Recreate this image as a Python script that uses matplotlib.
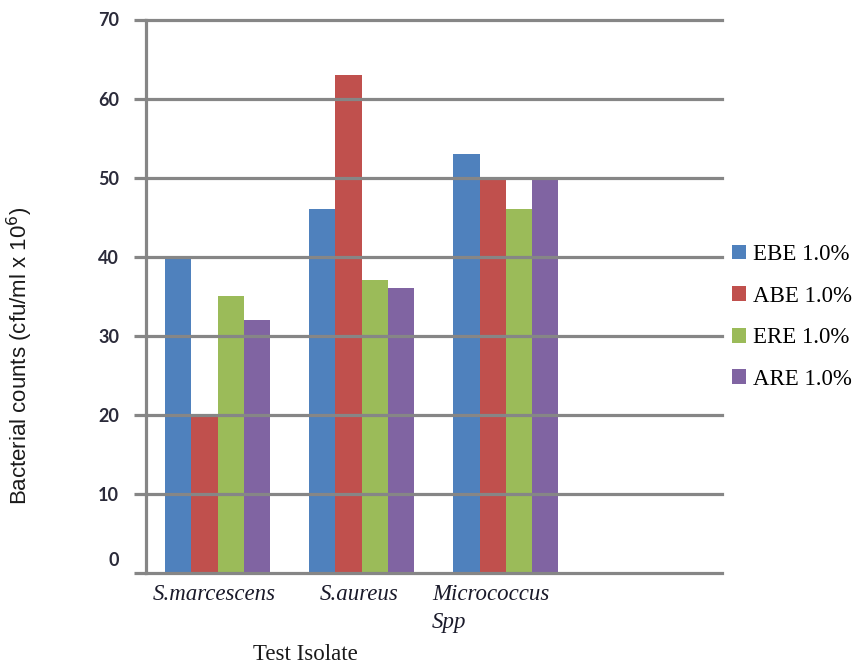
import matplotlib
matplotlib.use("Agg")
import matplotlib.pyplot as plt
import matplotlib.transforms as mtransforms
import numpy as np

# Bacterial counts per test isolate for each extract
isolates = ["S.marcescens", "S.aureus", "Micrococcus\nSpp"]
series_names = ["EBE 1.0%", "ABE 1.0%", "ERE 1.0%", "ARE 1.0%"]
ebe = [40, 46, 53]
abe = [20, 63, 50]
ere = [35, 37, 46]
are = [32, 36, 50]
yticks = [0, 10, 20, 30, 40, 50, 60, 70]

series = [ebe, abe, ere, are]
colors = ["#4F81BD", "#C0504D", "#9BBB59", "#8064A2"]
grid_color = "#868686"

fig = plt.figure(figsize=(8.57, 6.69), dpi=100)
ax = fig.add_axes([145.5 / 857, 1 - 573 / 669, (722 - 145.5) / 857, (573 - 19.5) / 669])

n_slots = 4  # one empty slot on the right of the category axis
x = np.arange(len(isolates))
bar_w = 0.182
offsets = (np.arange(len(series)) - 1.5) * bar_w
for vals, off, col, name in zip(series, offsets, colors, series_names):
    ax.bar(x + off, vals, width=bar_w, color=col, label=name, zorder=1)

ax.set_xlim(-0.5, n_slots - 0.5)
ax.set_ylim(0, 70)

# horizontal gridlines drawn over the bars
for v in yticks[1:]:
    ax.axhline(v, color=grid_color, lw=2.3, zorder=3, clip_on=False)

for s in ["top", "right"]:
    ax.spines[s].set_visible(False)
for s in ["left", "bottom"]:
    ax.spines[s].set_color(grid_color)
    ax.spines[s].set_linewidth(2.3)
    ax.spines[s].set_zorder(4)

ax.set_yticks(yticks)
ax.set_yticklabels([str(v) for v in yticks], fontfamily="Lato", fontweight="bold",
                   fontsize=13, color="#2b2b3a")
ax.tick_params(axis="y", length=8.5, width=2.3, color=grid_color, pad=10.5)
# the zero label sits slightly above the baseline
zero_lbl = ax.get_yticklabels()[0]
zero_lbl.set_transform(zero_lbl.get_transform() +
                       mtransforms.ScaledTranslation(0, 14 / 100, fig.dpi_scale_trans))

ax.set_xticks(x)
ax.set_xticklabels([])
ax.tick_params(axis="x", length=0)
label_x = [214, 359, 432]
for lbl, px in zip(isolates, label_x):
    ha = "left" if "\n" in lbl else "center"
    fig.text(px / 857, 1 - 584 / 669, lbl, ha=ha, va="top", fontfamily="Liberation Serif",
             fontstyle="italic", fontsize=16.5, color="#1a1a2a", linespacing=1.45)

fig.text(305 / 857, 1 - 655 / 669, "Test Isolate", ha="center", va="center",
         fontfamily="Liberation Serif", fontsize=16.5, color="#1a1a1a")
fig.text(20 / 857, 1 - 356 / 669, "Bacterial counts (cfu/ml x 10$^{6}$)", rotation=90,
         ha="center", va="center", fontfamily="Liberation Sans", fontsize=16, color="#1a1a1a")

handles, labels = ax.get_legend_handles_labels()
fig.legend(handles, labels, loc="center left", bbox_to_anchor=(732 / 857, 1 - 317 / 669),
           frameon=False, prop={"family": "Liberation Serif", "size": 16.5},
           handlelength=0.62, handleheight=0.62, handletextpad=0.3, labelspacing=0.9,
           borderpad=0, borderaxespad=0)

fig.savefig("out.png", dpi=100)
